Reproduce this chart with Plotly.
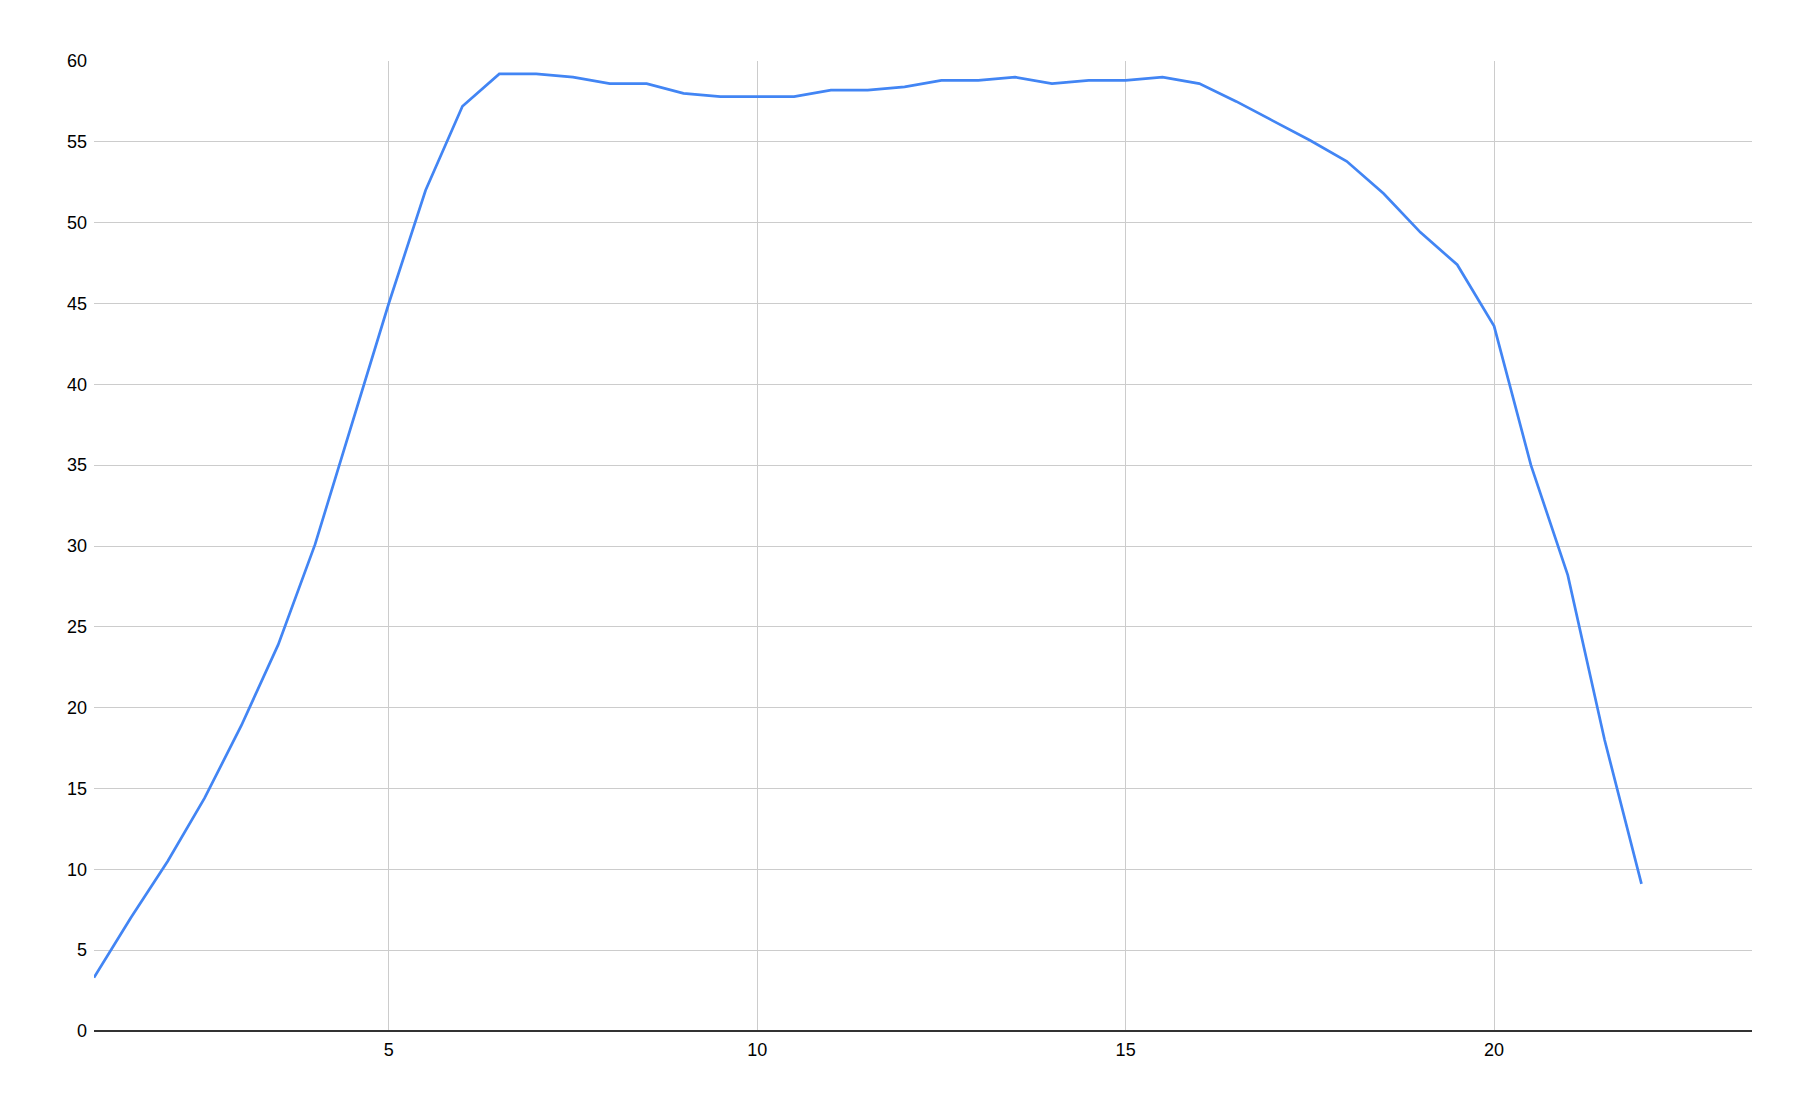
import plotly.graph_objects as go

x_values = [1, 1.5, 2, 2.5, 3, 3.5, 4, 4.5, 5, 5.5, 6, 6.5, 7, 7.5, 8, 8.5, 9, 9.5,
            10, 10.5, 11, 11.5, 12, 12.5, 13, 13.5, 14, 14.5, 15, 15.5, 16, 16.5,
            17, 17.5, 18, 18.5, 19, 19.5, 20, 20.5, 21, 21.5, 22]
y_values = [3.3, 7.0, 10.5, 14.4, 18.9, 23.9, 30.1, 37.5, 45.0, 52.0, 57.2, 59.2,
            59.2, 59.0, 58.6, 58.6, 58.0, 57.8, 57.8, 57.8, 58.2, 58.2, 58.4, 58.8,
            58.8, 59.0, 58.6, 58.8, 58.8, 59.0, 58.6, 57.5, 56.3, 55.1, 53.8, 51.8,
            49.4, 47.4, 43.6, 35.0, 28.2, 18.0, 9.1]
x_ticks = [5, 10, 15, 20]

fig = go.Figure()
fig.add_trace(go.Scatter(x=x_values, y=y_values, mode='lines',
                         line=dict(color='#4285F4', width=2.7), showlegend=False))

fig.update_layout(
    width=1802, height=1104,
    margin=dict(l=94, r=50, t=61, b=73),
    paper_bgcolor='white', plot_bgcolor='white',
    font=dict(family='Liberation Sans, Arial', size=18, color='#000000'),
)
fig.update_xaxes(range=[1, 23.5], tickvals=x_ticks, showgrid=True, gridcolor='#cccccc',
                 gridwidth=1, zeroline=False, showline=False, ticks='',
                 ticklabelstandoff=6)
fig.update_yaxes(range=[0, 60], dtick=5, showgrid=True, gridcolor='#cccccc',
                 gridwidth=1, zeroline=True, zerolinecolor='#333333', zerolinewidth=1.5,
                 showline=False, ticks='', ticklabelstandoff=6)

fig.write_html("out.html", config={'displayModeBar': False},
               post_script="document.body.style.margin='0';")
